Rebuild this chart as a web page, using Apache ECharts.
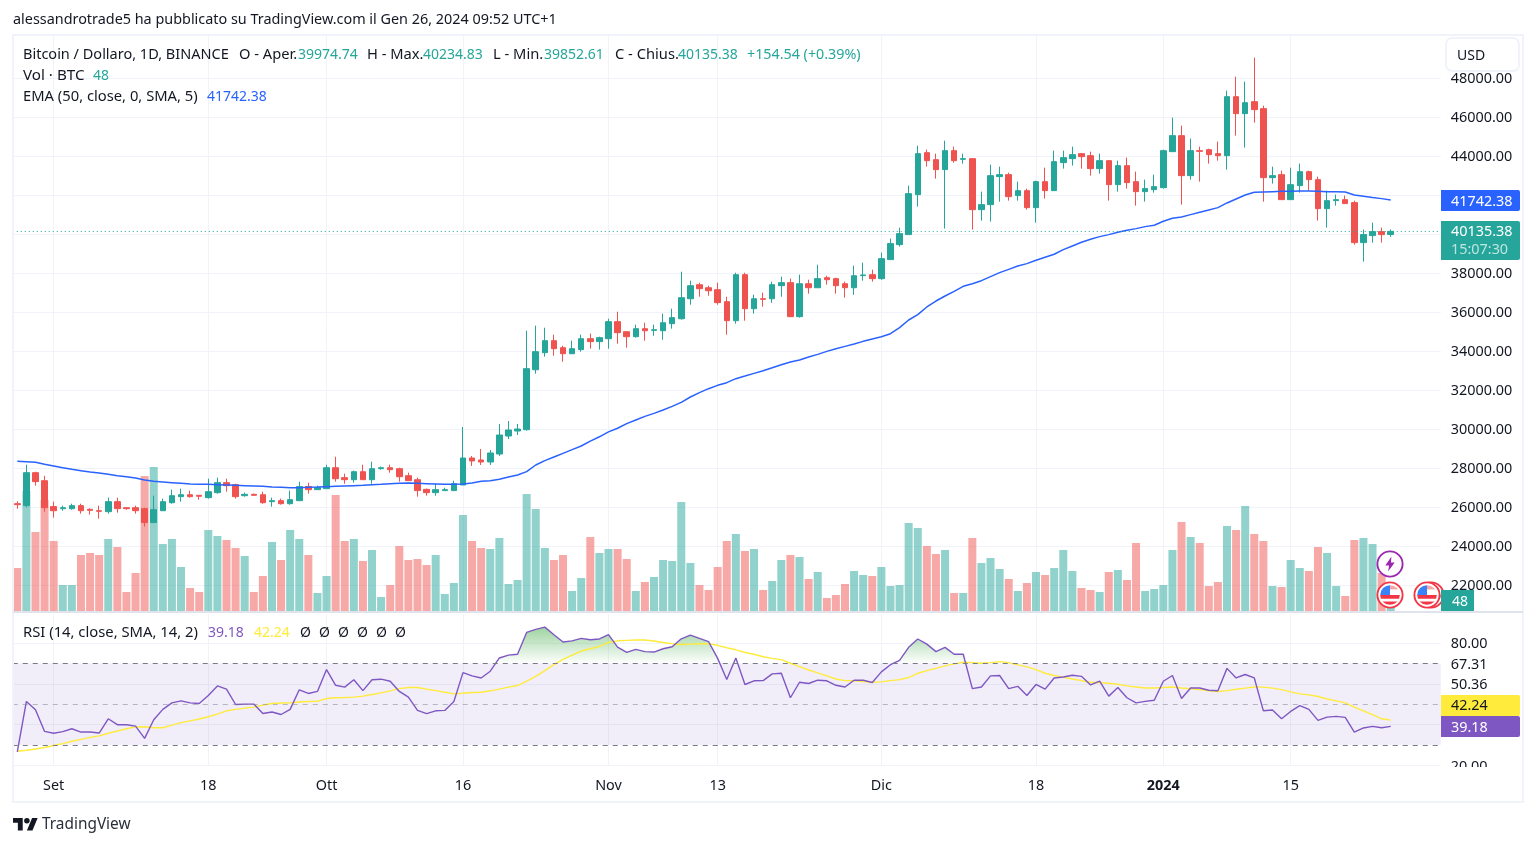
<!DOCTYPE html>
<html>
<head>
<meta charset="utf-8">
<title>BTC 1D</title>
<script src="https://cdn.jsdelivr.net/npm/echarts@6/dist/echarts.min.js"></script>
<style>
html,body{margin:0;padding:0;background:#fff;}
#chart{width:1536px;height:846px;}
</style>
</head>
<body>
<div id="chart"></div>
<script>
//candles, one per day from 2023-08-28
var opens=[26170,26070,27760,27350,26020,25915,25915,26070,25880,25810,
25760,26275,25965,25965,25915,25200,25810,26220,26530,26630,
26600,26480,26735,27250,27145,26580,26650,26630,26275,26325,
26170,26325,27045,26890,26940,28015,27505,27400,27810,27400,
27965,28015,27965,27605,27400,26905,26735,26840,26840,27129,
28513,28411,28308,28718,29641,29897,29965,33040,33915,34530,
34170,33860,34070,34630,34480,34630,35505,34990,34735,35145,
35060,35040,35400,35655,36680,37400,37245,37145,36530,35555,
37915,36170,36680,36680,37350,37505,35760,37450,37245,37760,
37710,37450,37245,37865,37915,37710,38686,39455,39968,42019,
44172,43813,43301,44275,43830,43865,41250,41506,42942,43044,
41968,42224,41352,42685,42224,43659,43864,44121,44018,43352,
43762,42532,43506,42685,42173,42275,42378,44223,45044,42993,
44275,44326,44121,44018,47043,46172,46787,46428,42890,43044,
41762,42480,43198,42788,41301,41711,41762,41609,39558,39917,
40122,39974.74];
var closes=[26120,27760,27300,25965,25810,25965,26070,25810,25830,25780,
26275,25915,25915,25810,25200,25865,26275,26580,26630,26530,
26550,26785,27250,27095,26530,26650,26600,26220,26325,26170,
26375,27045,26890,26990,28015,27450,27400,27810,27400,27965,
28015,27915,27555,27350,26840,26735,26890,26890,27195,28513,
28359,28308,28770,29692,29949,30000,33095,33965,34530,34120,
33860,34120,34630,34480,34685,35505,34940,34735,35145,35040,
35090,35450,35710,36735,37350,37195,37090,36480,35555,37915,
36170,36680,36650,37400,37505,35760,37450,37245,37710,37655,
37350,37245,37860,37900,37710,38737,39507,40019,42070,44121,
43762,43301,44275,43762,43865,41250,41506,42993,43044,41916,
42224,41352,42685,42224,43711,43916,44070,43967,43352,43762,
42532,43506,42634,42173,42327,42429,44275,45044,42993,44275,
44240,44070,44018,47043,46172,46736,46377,42890,42993,41762,
42532,43198,42788,41301,41711,41762,41558,39558,39968,40122,
39968,40135.38];
var lows=[25915,25980,27095,25760,25455,25810,25860,25660,25610,25400,
25660,25710,25860,25660,24990,25195,25810,26170,26275,26480,
26375,26430,26685,26785,26430,26530,26580,26170,26015,26120,
26120,26325,26685,26890,26940,27300,27195,27250,27400,27195,
27915,27760,27300,27350,26530,26580,26580,26840,26840,27129,
28103,28154,28154,28616,29487,29692,29915,32835,33710,33760,
33450,33860,33965,34120,34070,34120,34375,34170,34685,34530,
34785,34580,35145,35605,36375,36785,36835,36375,34835,35400,
35555,35915,36270,36475,36785,35760,35710,36940,37245,37400,
36940,36735,36885,37605,37555,37650,38686,39353,39968,41404,
43454,42839,40276,43660,43608,40224,40686,40635,41660,41711,
41711,41250,40583,41814,42224,43352,43506,43352,42993,43096,
41711,42173,42327,41455,41660,42121,42327,44223,41506,42788,
42685,43608,43762,43301,45044,44429,45710,41660,42583,41762,
41762,42121,42224,40686,40327,41455,41558,39455,38584,39558,
39558,39852.61];
var highs=[26290,28170,27810,27600,26275,26070,26170,26170,25930,26070,
26480,26480,25965,26070,25965,26580,26430,26890,26940,26840,
26600,27450,27505,27450,27195,26735,26685,26785,26480,26430,
26840,27300,27250,27095,28170,28580,27710,27865,28170,28325,
28070,28170,28015,27760,27505,26940,27195,26990,27350,30103,
28616,28975,28923,30256,30410,30256,35040,35300,35195,34835,
34270,34530,34835,34890,34735,35655,36015,34990,35350,35450,
35350,35915,36170,38065,37605,37505,37350,37505,36785,38015,
38015,36885,36990,37555,37810,37710,37915,37655,38425,37860,
37760,37555,38375,38530,38170,39045,39763,40327,42480,44531,
44326,44121,44787,44480,44121,43865,42173,43557,43454,43147,
42685,42327,42737,43403,44275,44275,44480,44121,44223,44121,
43762,43762,43916,43198,42788,43044,44326,45967,45556,44890,
44480,44377,44736,47351,48069,47812,49043,46582,43454,43249,
43403,43608,43249,42942,42224,42019,41968,41711,40225,40583,
40327,40234.83];
//volume bars, units
var volumes=[43,120,79,111,70,26,26,56,58,56,
72,64,19,38,135,144,67,72,44,23,
19,81,75,71,63,55,19,35,69,51,
81,72,56,18,35,116,70,72,50,61,
14,26,65,51,52,46,56,17,28,96,
70,63,62,73,27,31,117,102,63,51,
56,20,33,74,58,62,62,52,20,29,
34,51,50,109,48,26,21,44,70,77,
60,62,21,30,51,56,54,32,39,13,
16,27,40,36,35,44,25,26,88,83,
65,57,61,18,18,73,48,53,42,32,
20,28,39,36,43,61,40,23,21,19,
39,41,31,68,20,22,26,61,89,74,
68,25,29,85,81,105,77,70,25,24,
51,43,40,64,58,25,15,71,73,67,
38,4];
//EMA 50
var ema=[28341,28324,28290,28188,28102,28017,27931,27863,27795,27743,
27675,27607,27555,27487,27384,27316,27282,27248,27213,27179,
27162,27162,27145,27128,27111,27094,27077,27060,27025,27008,
26991,26991,27008,27025,27043,27060,27077,27094,27111,27145,
27162,27196,27213,27230,27213,27196,27179,27162,27162,27179,
27230,27316,27351,27419,27539,27642,27813,28154,28376,28564,
28752,28940,29128,29380,29600,29850,30040,30273,30461,30649,
30803,30974,31162,31367,31641,31863,32068,32239,32376,32581,
32717,32854,32991,33145,33298,33435,33538,33691,33828,33982,
34119,34238,34358,34495,34614,34734,34888,35200,35590,35864,
36257,36564,36820,37060,37316,37453,37607,37812,38017,38188,
38359,38481,38652,38806,38960,39199,39387,39575,39729,39865,
39968,40088,40190,40276,40378,40446,40652,40805,40874,40993,
41113,41233,41352,41592,41797,42002,42138,42156,42173,42190,
42190,42207,42207,42190,42173,42173,42156,42002,41934,41866,
41814,41742.38];
//RSI 14
var rsi=[26.7,51.4,47.3,36.7,35.8,36.6,38,36.4,36.4,35.9,
42.9,40,40,39.3,33.3,42.4,47.5,50.7,51.7,50.7,
50.4,54.3,59,57.4,49.9,50.1,50.1,45.5,46.2,45,
47.5,57.1,55.3,56.3,67,59.3,58.4,62,56.7,62,
62.3,61.3,56.3,53.5,47,45.4,46.8,47,51.4,65.5,
63.9,62.9,66.2,72.7,74.1,74.5,85.2,86.7,87.8,84.1,
80.5,81.1,82.3,81.6,82,84.1,78,75.4,76.9,75.8,
75.6,77.2,78.2,82.1,83.9,82.3,80.7,72.5,62.1,72.7,
59.7,61.5,61.6,64.9,65.2,53.2,60.8,60.2,61.8,61.5,
59.3,58.5,61.8,61.8,60.7,65.9,69.4,71.5,77.9,82,
79.5,75.8,77.9,74.5,74.5,57.7,58.5,63.9,64.1,57.7,
58.8,54.3,59.7,57.4,62.9,63.4,64.2,63.7,59.5,61.3,
54,58.2,53.2,50.7,51.4,52,61.3,64.1,52.8,58,
58,56.9,56.6,67.6,62.9,64.6,62.9,46.8,47.2,42.9,
46.5,49.3,47.5,42.1,43.7,44.1,43.6,36.4,38.4,39.2,
38.5,39.18];
//RSI moving average
var rsiMa=[27,27.5,28.1,28.8,29.8,30.7,31.9,32.8,33.8,34.5,
35.8,36.9,38,38.9,39,38.5,38.5,39.8,41,41.9,
42.8,43.9,45.2,46.8,47.5,48.1,48.6,49.6,50.4,50.6,
50.7,51.1,51.4,51.5,52.8,53.2,53.3,53.5,54,54.8,
55.6,56.6,57.7,58.2,58.2,57.4,56.7,55.9,55.1,55.4,
55.8,55.9,56.6,57.4,58.4,59.2,61.3,63.7,66.5,69.4,
72,74.1,76.1,77.2,78.4,80.3,81.1,81.3,81.5,81.5,
81,80.3,79.7,79.3,79.5,79.7,79.7,78.9,77.7,76.7,
75.4,74.5,73.3,72.5,71.9,70.1,68.5,66.8,65.4,63.9,
62.4,61.6,61.5,61.1,60.8,61,61.6,62.1,63.1,65.2,
66.5,67.6,68.8,69.8,70.6,70.4,70.1,70.4,70.9,70.4,
69.3,68.3,67,65.2,64.1,63.3,62.4,61.6,60.7,60.7,
60.3,59.8,59,58.5,58,58,58.2,58.5,58,57.6,
57.2,56.6,56.3,56.7,57.4,57.9,58.5,58.4,57.9,57.2,
56.1,55.1,54.6,53.8,52.6,51.7,50.7,48.6,46.8,44.9,
42.9,42.24];
//time axis labels
var tickLabels={'2023-09-01':'Set','2023-09-18':'18','2023-10-01':'Ott','2023-10-16':'16','2023-11-01':'Nov',
    '2023-11-13':'13','2023-12-01':'Dic','2023-12-18':'18','2024-01-01':'{b|2024}','2024-01-15':'15'};
//price labels hidden by the tags in the original
var hiddenPrices=[20000,40000,42000,50000];
//RSI scale shows these texts at these levels
var rsiTicks={80:'80.00',70:'67.31',60:'50.36',20:'20.00'};

var FONT='"Noto Sans",sans-serif';
var UP='#26a69a',DOWN='#ef5350';

//category axis, 157 days so the right side stays empty like the original
var days=[];
for(var d=0;d<157;d++){
    days.push(new Date(Date.UTC(2023,7,28+d)).toISOString().slice(0,10));
}
function isTick(index,value){ return tickLabels[value]!==undefined; }

var candles=opens.map(function(o,i){ return [o,closes[i],lows[i],highs[i]]; });
var volumeBars=volumes.map(function(v,i){
    return {value:v,itemStyle:{color:closes[i]>=opens[i]?'rgba(38,166,154,0.5)':'rgba(239,83,80,0.5)'}};
});

//icons
function svgImage(body,x,y,w,h,vb){
    var svg='<svg xmlns="http://www.w3.org/2000/svg" width="'+w*2+'" height="'+h*2+'" viewBox="'+(vb||'0 0 30 30')+'">'+body+'</svg>';
    return {type:'image',z:50,style:{image:'data:image/svg+xml,'+encodeURIComponent(svg),x:x,y:y,width:w,height:h}};
}
var flagSvg='<circle cx="15" cy="15" r="13.5" fill="#fff" stroke="#f23645" stroke-width="2"/>'+
    '<clipPath id="c"><circle cx="15" cy="15" r="10.5"/></clipPath><g clip-path="url(#c)">'+
    '<rect x="15" y="4" width="12" height="5" fill="#f7a6a6"/><rect y="15" width="30" height="4" fill="#f23645"/>'+
    '<rect y="22" width="30" height="5" fill="#f23645"/><rect x="4" y="4" width="11" height="11" fill="#3b82f6"/></g>';
var boltSvg='<circle cx="15" cy="15" r="13.5" fill="#fff" stroke="#9c27b0" stroke-width="2"/>'+
    '<path d="M16.5 7 L10 16.5 H14 L13 23 L20 13.5 H16 Z" fill="#9c27b0"/>';
var logoSvg='<path fill="#131722" d="M14 22H7V11H0V4h14v18zM28 22h-8l7.5-18h8L28 22zM24 8a4 4 0 1 1-8 0 4 4 0 0 1 8 0z"/>';

//small helpers for the overlay texts and tags
function txt(x,y,s,color,size){
    return {type:'text',z:60,style:{x:x,y:y+1,text:s,fill:color||'#131722',font:(size||14)+'px '+FONT,textVerticalAlign:'middle'}};
}
function box(x,y,w,h,fill,z){
    return {type:'rect',z:z===undefined?55:z,shape:{x:x,y:y,width:w,height:h},style:{fill:fill}};
}
function tag(y,h,fill){
    return {type:'rect',z:55,shape:{x:1441,y:y,width:79,height:h,r:[0,2,2,0]},style:{fill:fill}};
}

var INK='#131722';
var overlay=[
    //panel frame
    {type:'rect',z:40,shape:{x:13,y:35,width:1510,height:767},style:{fill:'none',stroke:'#f0f3fa',lineWidth:2}},
    box(13,611,1510,2,'#e0e3eb',40),
    //header
    txt(13,19,'alessandrotrade5 ha pubblicato su TradingView.com il Gen 26, 2024 09:52 UTC+1',INK,14.4),
    //legend rows
    txt(23,54,'Bitcoin / Dollaro, 1D, BINANCE',INK,14.5),
    txt(239,54,'O - Aper.',INK,14.7),txt(298,54,'39974.74',UP),
    txt(367,54,'H - Max.',INK,14.7),txt(423,54,'40234.83',UP),
    txt(493,54,'L - Min.',INK,14.7),txt(544,54,'39852.61',UP),
    txt(615,54,'C - Chius.',INK,14.7),txt(678,54,'40135.38',UP),
    txt(747,54,'+154.54 (+0.39%)',UP,14.3),
    txt(23,75,'Vol · BTC',INK,15.2),txt(93,75,'48',UP),
    txt(23,96,'EMA (50, close, 0, SMA, 5)',INK,14.75),txt(207,96,'41742.38','#2962ff'),
    txt(23,632,'RSI (14, close, SMA, 14, 2)',INK,14.8),txt(208,632,'39.18','#7e57c2'),txt(254,632,'42.24','#ffeb3b'),
    txt(300,632,'Ø'),txt(319,632,'Ø'),txt(338,632,'Ø'),txt(357,632,'Ø'),txt(376,632,'Ø'),txt(395,632,'Ø'),
    //currency button
    {type:'rect',z:55,shape:{x:1446,y:38,width:73,height:33,r:6},style:{fill:'#fff',stroke:'#f0f3fa',lineWidth:2}},
    txt(1457,55,'USD'),
    //price tags
    tag(190,21,'#2962ff'),txt(1451,201,'41742.38','#fff',14.4),
    tag(221,39,UP),txt(1451,231,'40135.38','#fff',14.4),txt(1451,249,'15:07:30','rgba(255,255,255,0.7)',14.4),
    box(1441,590,33,21,UP),txt(1452,601,'48','#fff'),
    tag(695,21,'#ffeb3b'),txt(1451,705,'42.24',INK,14.4),
    tag(716,21,'#7e57c2'),txt(1451,727,'39.18','#fff',14.4),
    //cut the lowest rsi label at the pane edge
    box(1441,767,80,12,'#fff',55),
    //events
    svgImage(boltSvg,1376,550,28,28),
    svgImage(flagSvg,1417,581,28,28),
    svgImage(flagSvg,1413,581,28,28),
    svgImage(flagSvg,1376,581,28,28),
    //logo
    svgImage(logoSvg,13,815,25,19,'0 0 36 27'),
    txt(42,824,'TradingView','#2a2e39',15.4)
];

var chart=echarts.init(document.getElementById('chart'),null,{renderer:'canvas'});

var gridLine={color:'#f0f3fa',width:1};
var LEFT=12.75,WIDTH=1428;
//right scale labels sit a pixel lower than the tick
var scaleRich={p:{fontSize:14.4,fontFamily:FONT,color:INK,padding:[2,0,0,0]}};
var hiddenX={type:'category',data:days,boundaryGap:true,axisLine:{show:false},axisTick:{show:false},axisLabel:{show:false},splitLine:{show:false}};
function timeAxis(grid,showLabels){
    return {type:'category',gridIndex:grid,data:days,boundaryGap:true,
        axisLine:{show:false},axisTick:{show:false},
        axisLabel:{show:showLabels,interval:isTick,margin:13,fontSize:14.4,fontFamily:FONT,color:INK,
            formatter:function(v){ return tickLabels[v]||''; },
            rich:{b:{fontWeight:'bold',fontSize:14.4,fontFamily:FONT,color:INK}}},
        splitLine:{show:true,interval:isTick,alignWithLabel:true,lineStyle:gridLine}};
}

var option={
    animation:false,
    backgroundColor:'#fff',
    textStyle:{fontFamily:FONT},
    tooltip:{show:false},
    grid:[
        {left:LEFT,width:WIDTH,top:36,height:575},     //volume
        {left:LEFT,width:WIDTH,top:39,height:585},     //price
        {left:LEFT,width:WIDTH,top:614.5,height:151},  //rsi
        {left:LEFT,width:WIDTH,top:614.5,height:49}    //rsi above 70
    ],
    xAxis:[
        timeAxis(0,false),
        Object.assign({},hiddenX,{gridIndex:1}),
        timeAxis(2,true),
        Object.assign({},hiddenX,{gridIndex:3})
    ],
    yAxis:[
        {type:'value',gridIndex:0,min:0,max:575,show:false,splitLine:{show:false}},
        {type:'value',gridIndex:1,min:20000,max:50000,interval:2000,position:'right',
            axisLine:{show:false},axisTick:{show:false},
            axisLabel:{margin:10,rich:scaleRich,
                formatter:function(v){ return hiddenPrices.indexOf(v)>=0?'':'{p|'+v.toFixed(2)+'}'; }},
            splitLine:{lineStyle:gridLine,showMinLine:false,showMaxLine:false}},
        {type:'value',gridIndex:2,min:20,max:94,interval:20,position:'right',
            axisLine:{show:false},axisTick:{show:false},
            axisLabel:{margin:10,rich:scaleRich,
                customValues:[20,60,70,80],
                formatter:function(v){ return rsiTicks[v]?'{p|'+rsiTicks[v]+'}':''; }},
            splitLine:{lineStyle:gridLine,showMaxLine:false}},
        {type:'value',gridIndex:3,min:70,max:94,show:false,splitLine:{show:false}}
    ],
    series:[
        {name:'Vol',type:'bar',xAxisIndex:0,yAxisIndex:0,data:volumeBars,barWidth:8,z:1},
        {name:'BTC',type:'candlestick',xAxisIndex:1,yAxisIndex:1,data:candles,barWidth:6,z:3,
            itemStyle:{color:UP,color0:DOWN,borderColor:UP,borderColor0:DOWN,borderWidth:1},
            markLine:{silent:true,symbol:'none',label:{show:false},
                lineStyle:{color:UP,type:[1,3],width:1},data:[{yAxis:40135.38}]}},
        {name:'EMA',type:'line',xAxisIndex:1,yAxisIndex:1,data:ema,showSymbol:false,z:4,
            lineStyle:{color:'#2962ff',width:1.5}},
        {name:'Overbought',type:'line',xAxisIndex:3,yAxisIndex:3,data:rsi,showSymbol:false,z:2,
            lineStyle:{width:0},
            areaStyle:{origin:'start',opacity:1,color:{type:'linear',global:true,x:0,y:627,x2:0,y2:664,
                colorStops:[{offset:0,color:'rgba(76,175,80,0.55)'},{offset:1,color:'rgba(76,175,80,0)'}]}}},
        {name:'RSI',type:'line',xAxisIndex:2,yAxisIndex:2,data:rsi,showSymbol:false,z:4,
            lineStyle:{color:'#7e57c2',width:1.4},
            markArea:{silent:true,itemStyle:{color:'rgba(126,87,194,0.1)'},data:[[{yAxis:30},{yAxis:70}]]},
            markLine:{silent:true,symbol:'none',label:{show:false},data:[
                {yAxis:70,lineStyle:{color:'#787b86',type:[5,5],width:1}},
                {yAxis:50,lineStyle:{color:'rgba(120,123,134,0.5)',type:[5,5],width:1}},
                {yAxis:30,lineStyle:{color:'#787b86',type:[5,5],width:1}}]}},
        {name:'RSI MA',type:'line',xAxisIndex:2,yAxisIndex:2,data:rsiMa,showSymbol:false,z:3,
            lineStyle:{color:'#ffeb3b',width:1.4}}
    ],
    graphic:{elements:overlay}
};
chart.setOption(option);
</script>
</body>
</html>
